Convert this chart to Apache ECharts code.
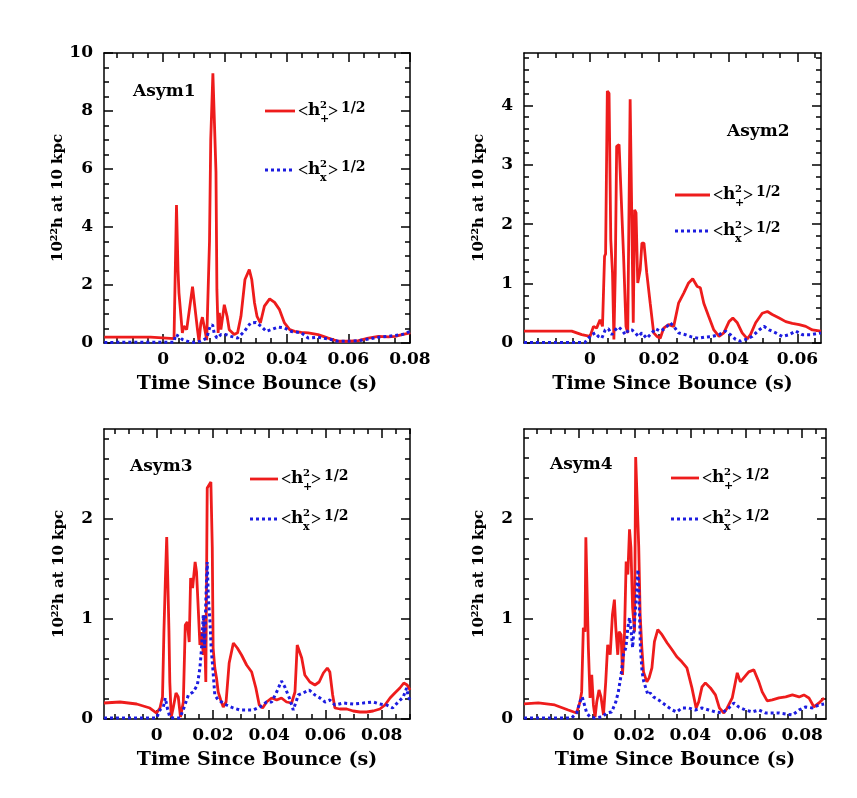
<!DOCTYPE html>
<html><head><meta charset="utf-8">
<script src="https://cdn.jsdelivr.net/npm/echarts@6/dist/echarts.min.js"></script>
<style>html,body{margin:0;padding:0;background:#fff}#c{width:857px;height:798px}</style>
</head><body><div id="c"></div><script>
// ---------- DATA ----------
// Asym1
const a1TimePlus = [-0.0191,-0.0041,-0.0036,0.0035,0.0043,0.0048,0.0051,0.0057,0.0062,0.0067,0.0076,0.0095,0.0103,0.0111,0.0116,0.0122,0.0127,0.0135,0.0141,0.0150,0.0154,0.0161,0.0165,0.0171,0.0174,0.0178,0.0182,0.0187,0.0198,0.0207,0.0214,0.0230,0.0241,0.0252,0.0265,0.0279,0.0287,0.0296,0.0304,0.0315,0.0328,0.0345,0.0361,0.0377,0.0393,0.0410,0.0426,0.0448,0.0470,0.0502,0.0535,0.0567,0.0600,0.0633,0.0665,0.0698,0.0730,0.0752,0.0774,0.0801];
const a1Plus     = [0.2,0.2,0.15,0.15,4.76,2.5,1.73,1.78,0.35,0.58,0.46,1.94,1.2,0.46,0.06,0.69,0.89,0.46,0.1,3.5,7.0,9.3,9.28,5.9,1.84,0.35,1.04,0.46,1.32,0.92,0.46,0.29,0.35,0.92,2.19,2.53,2.19,1.38,0.92,0.69,1.27,1.52,1.4,1.15,0.69,0.46,0.4,0.37,0.35,0.29,0.17,0.06,0.06,0.08,0.17,0.23,0.21,0.23,0.29,0.35];
const a1TimeCross = [-0.0191,0.0035,0.0040,0.0051,0.0062,0.0078,0.0100,0.0122,0.0141,0.0152,0.0160,0.0165,0.0174,0.0187,0.0203,0.0220,0.0241,0.0263,0.0283,0.0301,0.0317,0.0334,0.0350,0.0372,0.0393,0.0415,0.0448,0.0470,0.0502,0.0535,0.0567,0.0600,0.0633,0.0665,0.0698,0.0730,0.0774,0.0801];
const a1Cross     = [0.02,0.03,0.29,0.23,0.12,0.06,0.02,0.06,0.17,0.58,0.63,0.35,0.17,0.29,0.29,0.23,0.17,0.4,0.69,0.71,0.58,0.4,0.46,0.55,0.52,0.4,0.35,0.17,0.2,0.14,0.06,0.06,0.08,0.14,0.2,0.23,0.29,0.4];
// Asym2
const a2TimePlus = [-0.0191,-0.0053,-0.0024,0,0.0010,0.0019,0.0029,0.0036,0.0042,0.0045,0.0050,0.0055,0.0060,0.0065,0.0069,0.0073,0.0077,0.0084,0.0090,0.0097,0.0104,0.0109,0.0116,0.0121,0.0125,0.0129,0.0133,0.0138,0.0145,0.0150,0.0156,0.0164,0.0174,0.0184,0.0194,0.0203,0.0213,0.0227,0.0242,0.0256,0.0271,0.0285,0.0297,0.0310,0.0319,0.0329,0.0343,0.0358,0.0373,0.0387,0.0402,0.0413,0.0426,0.0440,0.0455,0.0464,0.0479,0.0498,0.0513,0.0527,0.0547,0.0566,0.0585,0.0605,0.0624,0.0643,0.0668];
const a2Plus     = [0.2,0.2,0.14,0.11,0.28,0.25,0.39,0.28,1.46,1.5,4.24,4.2,1.74,1.18,0.06,1.18,3.31,3.34,2.47,1.46,0.28,0.17,4.1,4.07,0.34,2.24,2.19,1.01,1.23,1.68,1.68,1.18,0.67,0.17,0.11,0.08,0.25,0.31,0.28,0.67,0.84,1.01,1.08,0.95,0.93,0.67,0.45,0.22,0.11,0.17,0.36,0.42,0.34,0.17,0.07,0.14,0.34,0.5,0.53,0.48,0.42,0.36,0.33,0.31,0.28,0.22,0.2];
const a2TimeCross = [-0.0191,-0.0015,0.0005,0.0015,0.0024,0.0034,0.0044,0.0053,0.0063,0.0073,0.0082,0.0092,0.0102,0.0111,0.0121,0.0131,0.0140,0.0150,0.0164,0.0179,0.0189,0.0203,0.0218,0.0232,0.0242,0.0256,0.0276,0.0295,0.0314,0.0334,0.0353,0.0373,0.0392,0.0406,0.0421,0.0435,0.0450,0.0469,0.0489,0.0503,0.0518,0.0537,0.0556,0.0576,0.0595,0.0614,0.0639,0.0668];
const a2Cross     = [0.01,0.01,0.14,0.17,0.11,0.08,0.22,0.24,0.14,0.22,0.27,0.22,0.14,0.22,0.22,0.17,0.11,0.17,0.08,0.17,0.24,0.2,0.25,0.34,0.28,0.17,0.14,0.1,0.08,0.1,0.11,0.14,0.2,0.14,0.06,0.03,0.06,0.11,0.22,0.28,0.22,0.17,0.11,0.14,0.2,0.14,0.14,0.17];
// Asym3
const a3TimePlus = [-0.0187,-0.0130,-0.0071,-0.0024,0,0.0012,0.0021,0.0026,0.0031,0.0036,0.0040,0.0044,0.0047,0.0052,0.0059,0.0069,0.0077,0.0085,0.0095,0.0102,0.0109,0.0116,0.0121,0.0128,0.0137,0.0142,0.0148,0.0154,0.0160,0.0166,0.0169,0.0175,0.0180,0.0186,0.0193,0.0198,0.0201,0.0207,0.0213,0.0219,0.0228,0.0237,0.0247,0.0258,0.0273,0.0287,0.0302,0.0320,0.0338,0.0353,0.0365,0.0377,0.0391,0.0409,0.0427,0.0444,0.0462,0.0480,0.0492,0.0500,0.0507,0.0516,0.0527,0.0545,0.0563,0.0578,0.0593,0.0607,0.0616,0.0626,0.0634,0.0652,0.0676,0.0699,0.0723,0.0747,0.0770,0.0794,0.0812,0.0830,0.0847,0.0865,0.0879,0.0891,0.0901];
const a3Plus     = [0.16,0.17,0.15,0.11,0.06,0.11,0.22,0.87,1.37,1.82,1.37,0.87,0.37,0.02,0.11,0.26,0.22,0.02,0.17,0.94,0.97,0.77,1.41,1.31,1.57,1.47,1.11,0.74,0.87,0.64,1.04,0.37,2.31,2.29,2.37,1.71,0.71,0.51,0.41,0.27,0.19,0.12,0.17,0.56,0.76,0.71,0.64,0.54,0.47,0.31,0.14,0.11,0.17,0.21,0.19,0.21,0.17,0.16,0.27,0.74,0.76,0.61,0.44,0.37,0.34,0.37,0.46,0.51,0.47,0.24,0.11,0.1,0.1,0.08,0.07,0.07,0.08,0.1,0.14,0.21,0.26,0.31,0.36,0.34,0.29];
const a3TimeCross = [-0.0187,0,0.0012,0.0024,0.0031,0.0038,0.0047,0.0059,0.0083,0.0097,0.0113,0.0130,0.0145,0.0154,0.0160,0.0166,0.0171,0.0175,0.0180,0.0184,0.0190,0.0194,0.0199,0.0207,0.0219,0.0231,0.0249,0.0273,0.0296,0.0320,0.0344,0.0367,0.0391,0.0409,0.0427,0.0444,0.0456,0.0472,0.0486,0.0504,0.0521,0.0543,0.0563,0.0581,0.0599,0.0616,0.0634,0.0664,0.0699,0.0735,0.0770,0.0794,0.0818,0.0839,0.0859,0.0877,0.0889,0.0895,0.0901];
const a3Cross     = [0.01,0.01,0.09,0.12,0.21,0.11,0.02,0.01,0.01,0.11,0.24,0.27,0.34,0.51,0.71,1.04,0.71,1.17,1.57,1.21,0.97,0.71,0.54,0.24,0.19,0.17,0.14,0.11,0.09,0.09,0.09,0.12,0.17,0.17,0.27,0.38,0.32,0.21,0.09,0.24,0.26,0.29,0.24,0.21,0.17,0.19,0.14,0.16,0.15,0.16,0.17,0.15,0.14,0.11,0.17,0.22,0.31,0.22,0.19];
// Asym4
const a4TimePlus = [-0.0194,-0.0143,-0.0084,-0.0036,-0.0006,0.0006,0.0012,0.0018,0.0024,0.0027,0.0032,0.0036,0.0042,0.0048,0.0054,0.0060,0.0066,0.0074,0.0081,0.0090,0.0098,0.0105,0.0114,0.0122,0.0129,0.0134,0.0141,0.0146,0.0153,0.0158,0.0165,0.0171,0.0177,0.0183,0.0188,0.0194,0.0201,0.0205,0.0211,0.0216,0.0221,0.0227,0.0233,0.0245,0.0253,0.0263,0.0272,0.0284,0.0299,0.0317,0.0335,0.0352,0.0370,0.0388,0.0406,0.0421,0.0430,0.0442,0.0454,0.0472,0.0490,0.0504,0.0520,0.0532,0.0550,0.0568,0.0579,0.0591,0.0609,0.0627,0.0645,0.0657,0.0675,0.0693,0.0717,0.0741,0.0765,0.0789,0.0806,0.0824,0.0842,0.0860,0.0878];
const a4Plus     = [0.15,0.16,0.14,0.09,0.06,0.17,0.27,0.91,0.87,1.81,1.81,0.71,0.21,0.44,0.14,0.02,0.17,0.29,0.22,0.04,0.37,0.74,0.64,1.04,1.19,0.91,0.64,0.87,0.84,0.44,0.84,1.57,1.44,1.89,1.71,1.11,0.87,2.61,2.62,1.71,1.04,0.71,0.47,0.37,0.41,0.51,0.77,0.89,0.84,0.76,0.69,0.62,0.57,0.51,0.31,0.11,0.17,0.32,0.36,0.31,0.24,0.11,0.06,0.11,0.21,0.46,0.37,0.41,0.47,0.49,0.37,0.27,0.18,0.19,0.21,0.22,0.24,0.22,0.24,0.21,0.12,0.16,0.21];
const a4TimeCross = [-0.0194,-0.0024,-0.0006,0.0006,0.0014,0.0022,0.0030,0.0042,0.0060,0.0084,0.0102,0.0119,0.0134,0.0143,0.0153,0.0161,0.0170,0.0177,0.0183,0.0189,0.0194,0.0201,0.0208,0.0213,0.0217,0.0222,0.0228,0.0234,0.0241,0.0249,0.0257,0.0269,0.0287,0.0311,0.0335,0.0352,0.0370,0.0394,0.0418,0.0442,0.0466,0.0490,0.0514,0.0538,0.0556,0.0573,0.0597,0.0621,0.0645,0.0669,0.0693,0.0717,0.0741,0.0765,0.0789,0.0812,0.0836,0.0860,0.0878];
const a4Cross     = [0.01,0.01,0.06,0.17,0.22,0.14,0.06,0.02,0.01,0.02,0.06,0.07,0.17,0.27,0.44,0.64,0.71,0.91,1.01,0.87,0.71,0.97,1.24,1.49,1.21,0.71,0.47,0.37,0.31,0.24,0.26,0.22,0.19,0.14,0.09,0.07,0.11,0.11,0.09,0.11,0.09,0.07,0.06,0.11,0.16,0.12,0.09,0.07,0.09,0.06,0.06,0.06,0.05,0.04,0.09,0.12,0.11,0.14,0.15];

// tick labels
const panelNames = ['Asym1','Asym2','Asym3','Asym4'];
const xTicks1 = [0,0.02,0.04,0.06,0.08];
const xTicks2 = [0,0.02,0.04,0.06];
const xTicks3 = [0,0.02,0.04,0.06,0.08];
const xTicks4 = [0,0.02,0.04,0.06,0.08];
const yTicks1 = [0,2,4,6,8,10];
const yTicks2 = [0,1,2,3,4];
const yTicks3 = [0,1,2];
const yTicks4 = [0,1,2];
const xTitle = 'Time Since Bounce (s)';
const yTitle = '10²²h at 10 kpc';

// ---------- LAYOUT ----------
const FONT = 'DejaVu Serif';
const RED = '#ee1c1c', BLUE = '#1c1ce0';
const AX = {color:'#000', width:1.5};
const panels = [
  {box:{left:104,top:53,width:306,height:290}, x:[-0.0192,0.0800], y:[0,10],   xt:xTicks1, yt:yTicks1, yMinor:0.5,
   plus:[a1TimePlus,a1Plus], cross:[a1TimeCross,a1Cross]},
  {box:{left:524,top:53,width:297,height:290}, x:[-0.0191,0.0668], y:[0,4.88], xt:xTicks2, yt:yTicks2, yMinor:0.2,
   plus:[a2TimePlus,a2Plus], cross:[a2TimeCross,a2Cross]},
  {box:{left:104,top:429,width:306,height:290}, x:[-0.0187,0.0901], y:[0,2.9], xt:xTicks3, yt:yTicks3, yMinor:0.2,
   plus:[a3TimePlus,a3Plus], cross:[a3TimeCross,a3Cross]},
  {box:{left:524,top:429,width:302,height:290}, x:[-0.0194,0.0885], y:[0,2.89], xt:xTicks4, yt:yTicks4, yMinor:0.2,
   plus:[a4TimePlus,a4Plus], cross:[a4TimeCross,a4Cross]}
];

function stepTicks(min, max, step) {
  const out = [];
  const k0 = Math.ceil(min / step - 1e-9), k1 = Math.floor(max / step + 1e-9);
  for (let k = k0; k <= k1; k++) out.push(+(k * step).toFixed(6));
  return out;
}
function zip(t, v) { const n = Math.min(t.length, v.length); const o = []; for (let i = 0; i < n; i++) o.push([t[i], v[i]]); return o; }

const grid = [], xAxis = [], yAxis = [], series = [];
const labelStyle = {color:'#000', fontFamily:FONT, fontSize:17, fontWeight:'bold'};
panels.forEach((p, g) => {
  grid.push(Object.assign({outerBoundsMode:'none', containLabel:false}, p.box));
  const xMinor = stepTicks(p.x[0], p.x[1], 0.005);
  const yMinor = stepTicks(p.y[0], p.y[1], p.yMinor);
  const xb = {gridIndex:g, type:'value', min:p.x[0], max:p.x[1], splitLine:{show:false}};
  const tick = (vals, len) => ({show:true, inside:true, length:len, lineStyle:AX, customValues:vals});
  xAxis.push(
    Object.assign({}, xb, {position:'bottom', axisLine:{show:true, onZero:false, lineStyle:AX}, axisTick:tick(p.xt, 9),
      axisLabel:{show:true, customValues:p.xt, margin:8, formatter:v => v === 0 ? '0' : v.toFixed(2), ...labelStyle},
      name:xTitle, nameLocation:'middle', nameGap:32, nameTextStyle:{color:'#000', fontFamily:FONT, fontSize:19, fontWeight:'bold'}}),
    Object.assign({}, xb, {position:'bottom', axisLine:{show:false, onZero:false}, axisTick:tick(xMinor, 5), axisLabel:{show:false}}),
    Object.assign({}, xb, {position:'top', axisLine:{show:true, onZero:false, lineStyle:AX}, axisTick:tick(p.xt, 9), axisLabel:{show:false}}),
    Object.assign({}, xb, {position:'top', axisLine:{show:false, onZero:false}, axisTick:tick(xMinor, 5), axisLabel:{show:false}})
  );
  const yb = {gridIndex:g, type:'value', min:p.y[0], max:p.y[1], splitLine:{show:false}};
  yAxis.push(
    Object.assign({}, yb, {position:'left', axisLine:{show:true, onZero:false, lineStyle:AX}, axisTick:tick(p.yt, 9),
      axisLabel:{show:true, customValues:p.yt, margin:11, ...labelStyle},
      name:yTitle, nameLocation:'middle', nameGap:37, nameTextStyle:{color:'#000', fontFamily:FONT, fontSize:15, fontWeight:'bold'}}),
    Object.assign({}, yb, {position:'left', axisLine:{show:false, onZero:false}, axisTick:tick(yMinor, 5), axisLabel:{show:false}}),
    Object.assign({}, yb, {position:'right', axisLine:{show:true, onZero:false, lineStyle:AX}, axisTick:tick(p.yt, 9), axisLabel:{show:false}}),
    Object.assign({}, yb, {position:'right', axisLine:{show:false, onZero:false}, axisTick:tick(yMinor, 5), axisLabel:{show:false}})
  );
  series.push(
    {type:'line', xAxisIndex:g*4, yAxisIndex:g*4, showSymbol:false, animation:false, z:3,
     data:zip(p.plus[0], p.plus[1]), lineStyle:{color:RED, width:2.8}},
    {type:'line', xAxisIndex:g*4, yAxisIndex:g*4, showSymbol:false, animation:false, z:4,
     data:zip(p.cross[0], p.cross[1]), lineStyle:{color:BLUE, width:3, type:[3,3]}}
  );
});

// ---------- ANNOTATIONS (panel names + legends) ----------
const graphic = [];
const titlePos = [[133,92],[727,132],[130,467],[550,465]];
panelNames.forEach((n, i) => graphic.push({type:'text', x:titlePos[i][0], y:titlePos[i][1],
  style:{text:n, fill:'#000', fontFamily:FONT, fontSize:17, fontWeight:'bold', align:'left', verticalAlign:'middle'}}));

function legendEntry(x1, x2, y, color, dotted, sub) {
  const T = x2 + 3;
  const t = (txt, x, yy, size, fam) => ({type:'text', x, y:yy,
    style:{text:txt, fill:'#000', fontFamily:fam || FONT, fontSize:size, fontWeight:'bold', align:'left', verticalAlign:'middle'}});
  graphic.push(
    {type:'line', shape:{x1, y1:y, x2, y2:y}, style:{stroke:color, lineWidth:dotted ? 3 : 2.8, lineDash:dotted ? [3,3] : null}},
    t('<', T, y + 1, 18, 'Liberation Serif'),
    t('h', T + 10, y, 17),
    t('2', T + 22, y - 6, 10),
    t(sub, T + 22, y + 8, 11),
    t('>', T + 30, y + 1, 18, 'Liberation Serif'),
    t('1/2', T + 43, y - 3, 14)
  );
}
legendEntry(265, 295, 111, RED, false, '+');
legendEntry(265, 295, 170, BLUE, true, 'x');
legendEntry(675, 710, 195, RED, false, '+');
legendEntry(675, 710, 231, BLUE, true, 'x');
legendEntry(250, 278, 479, RED, false, '+');
legendEntry(250, 278, 519, BLUE, true, 'x');
legendEntry(671, 699, 478, RED, false, '+');
legendEntry(671, 699, 519, BLUE, true, 'x');

const chart = echarts.init(document.getElementById('c'), null, {renderer:'canvas'});
chart.setOption({backgroundColor:'#fff', animation:false, grid, xAxis, yAxis, series, graphic});
</script></body></html>
